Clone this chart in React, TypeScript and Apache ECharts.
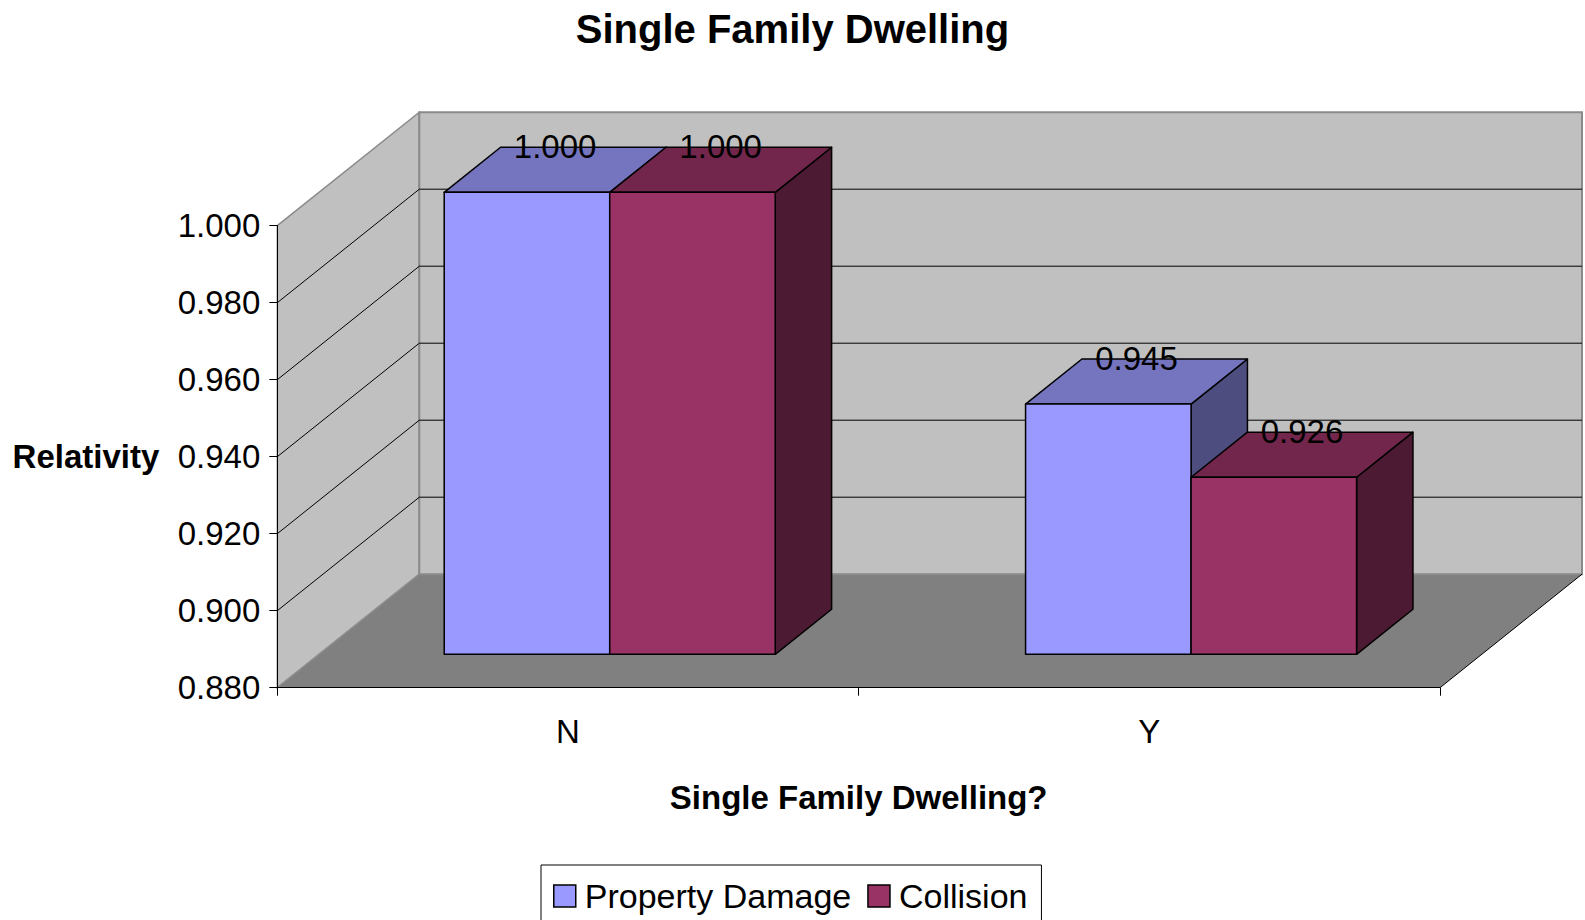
import React, { useEffect, useRef } from 'react';
import * as echarts from 'echarts';

// ---- data ----
const categories = ['N', 'Y'];
const seriesNames = ['Property Damage', 'Collision'];
const propertyDamage = [1.0, 0.945];
const collision = [1.0, 0.926];
const yTicks = [0.88, 0.9, 0.92, 0.94, 0.96, 0.98, 1.0];

// ---- look ----
const FONT = '"Liberation Sans", Arial, Helvetica, sans-serif';
const DEPTH_X = 142; // horizontal shift from the front plane to the back wall
const DEPTH_Y = -113.5; // vertical shift from the front plane to the back wall
const BAR_FRONT = 0.294; // bar front face, as a share of the depth
const BAR_BACK = 0.691; // bar back face, as a share of the depth
const BAR_SHARE = 0.2847; // one bar's width as a share of a category band

const palettes = [
  { front: '#9999FF', top: '#7575BF', side: '#4D4D80' },
  { front: '#993366', top: '#72264C', side: '#4C1A33' },
];

function makeBarRenderer(slot: number) {
  return (params: any, api: any) => {
    const cat = api.value(0);
    const v = api.value(1);
    const base = api.coord([cat, yTicks[0]]);
    const top = api.coord([cat, v]);
    const band = api.size([1, 0])[0];
    const w = band * BAR_SHARE;
    const x0 = base[0] - w + slot * w;
    const fx = BAR_FRONT * DEPTH_X;
    const fy = BAR_FRONT * DEPTH_Y;
    const dx = (BAR_BACK - BAR_FRONT) * DEPTH_X;
    const dy = (BAR_BACK - BAR_FRONT) * DEPTH_Y;
    const L = x0 + fx;
    const R = x0 + w + fx;
    const T = top[1] + fy;
    const B = base[1] + fy;
    const pal = palettes[slot];
    const edge = { stroke: '#000', lineWidth: 1.5, lineJoin: 'round' };
    const mid = (BAR_FRONT + BAR_BACK) / 2;
    return {
      type: 'group',
      children: [
        {
          type: 'polygon',
          shape: { points: [[R, T], [R + dx, T + dy], [R + dx, B + dy], [R, B]] },
          style: { fill: pal.side, ...edge },
        },
        {
          type: 'polygon',
          shape: { points: [[L, T], [R, T], [R + dx, T + dy], [L + dx, T + dy]] },
          style: { fill: pal.top, ...edge },
        },
        {
          type: 'rect',
          shape: { x: L, y: T, width: w, height: B - T },
          style: { fill: pal.front, ...edge },
        },
        {
          type: 'text',
          z2: 20,
          style: {
            text: v.toFixed(3),
            x: x0 + w / 2 + mid * DEPTH_X,
            y: top[1] + mid * DEPTH_Y - 23,
            align: 'center',
            verticalAlign: 'middle',
            font: `33px ${FONT}`,
            fill: '#000',
          },
        },
      ],
    };
  };
}

// Side wall, back wall, floor and the gridlines behind the bars.
function renderWalls(params: any, api: any) {
  const cs = params.coordSys;
  const left = cs.x;
  const right = cs.x + cs.width;
  const top = cs.y;
  const bottom = cs.y + cs.height;
  const children: any[] = [
    {
      type: 'polygon',
      shape: {
        points: [[left, bottom], [left + DEPTH_X, bottom + DEPTH_Y], [right + DEPTH_X, bottom + DEPTH_Y], [right, bottom]],
      },
      style: { fill: '#808080' },
    },
    {
      type: 'polygon',
      shape: {
        points: [[left, top], [left + DEPTH_X, top + DEPTH_Y], [left + DEPTH_X, bottom + DEPTH_Y], [left, bottom]],
      },
      style: { fill: '#C0C0C0', stroke: '#8A8A8A', lineWidth: 1.5 },
    },
    {
      type: 'rect',
      shape: { x: left + DEPTH_X, y: top + DEPTH_Y, width: cs.width, height: cs.height },
      style: { fill: '#C0C0C0', stroke: '#8A8A8A', lineWidth: 2 },
    },
  ];
  yTicks.slice(1, -1).forEach((v) => {
    const y = api.coord([0, v])[1];
    children.push({
      type: 'line',
      shape: { x1: left, y1: y, x2: left + DEPTH_X, y2: y + DEPTH_Y },
      style: { stroke: '#000', lineWidth: 1 },
    });
    children.push({
      type: 'line',
      shape: { x1: left + DEPTH_X, y1: y + DEPTH_Y, x2: right + DEPTH_X, y2: y + DEPTH_Y },
      style: { stroke: '#000', lineWidth: 1 },
    });
  });
  children.push({
    type: 'line',
    shape: { x1: right, y1: bottom, x2: right + DEPTH_X, y2: bottom + DEPTH_Y },
    style: { stroke: '#000', lineWidth: 1 },
  });
  return { type: 'group', children };
}

export default function App() {
  const ref = useRef<HTMLDivElement>(null);

  useEffect(() => {
    if (!ref.current) return;
    const chart = echarts.init(ref.current, undefined, { renderer: 'svg' });
    const values = [propertyDamage, collision];

    chart.setOption({
      animation: false,
      backgroundColor: '#FFFFFF',
      title: {
        text: 'Single Family Dwelling',
        left: 'center',
        top: 4,
        textStyle: { fontFamily: FONT, fontSize: 40, fontWeight: 'bold', color: '#000' },
      },
      legend: {
        left: 541,
        top: 865,
        padding: [13, 14, 10, 12],
        borderColor: '#000',
        borderWidth: 1,
        backgroundColor: '#FFFFFF',
        icon: 'rect',
        itemWidth: 22,
        itemHeight: 22,
        itemGap: 16,
        textStyle: {
          fontFamily: FONT,
          fontSize: 34,
          lineHeight: 36,
          color: '#000',
          padding: [0, 0, 0, 4],
        },
        data: seriesNames.map((name, i) => ({
          name,
          itemStyle: { color: palettes[i].front, borderColor: '#000', borderWidth: 1.5 },
        })),
      },
      grid: { left: 277.3, right: 145, top: 225.7, bottom: 232.3, containLabel: false },
      xAxis: {
        type: 'category',
        data: categories,
        z: 5,
        axisLine: { show: true, lineStyle: { color: '#000', width: 1 } },
        axisTick: { show: true, length: 8, alignWithLabel: false, lineStyle: { color: '#000' } },
        axisLabel: { fontFamily: FONT, fontSize: 33, color: '#000', margin: 27 },
        splitLine: { show: false },
        name: 'Single Family Dwelling?',
        nameLocation: 'middle',
        nameGap: 93,
        nameTextStyle: { fontFamily: FONT, fontSize: 33, fontWeight: 'bold', color: '#000' },
      },
      yAxis: {
        type: 'value',
        min: yTicks[0],
        max: yTicks[yTicks.length - 1],
        interval: 0.02,
        z: 5,
        axisLine: { show: true, lineStyle: { color: '#000', width: 1 } },
        axisTick: { show: true, length: 8, lineStyle: { color: '#000' } },
        axisLabel: {
          fontFamily: FONT,
          fontSize: 33,
          color: '#000',
          margin: 17,
          formatter: (v: number) => v.toFixed(3),
        },
        splitLine: { show: false },
        name: 'Relativity',
        nameLocation: 'middle',
        nameRotate: 0,
        nameGap: 118,
        nameTextStyle: {
          fontFamily: FONT,
          fontSize: 33,
          fontWeight: 'bold',
          color: '#000',
          padding: [6, 0, 0, 0],
        },
      },
      series: [
        {
          name: 'walls',
          type: 'custom',
          z: 1,
          silent: true,
          renderItem: renderWalls,
          data: [[0, yTicks[0]]],
        },
        ...seriesNames.map((name, i) => ({
          name,
          type: 'custom',
          z: 2,
          silent: true,
          itemStyle: { color: palettes[i].front, borderColor: '#000', borderWidth: 1.5 },
          renderItem: makeBarRenderer(i),
          data: categories.map((_, c) => [c, values[i][c]]),
        })),
      ],
    });

    return () => chart.dispose();
  }, []);

  return (
    <div
      ref={ref}
      style={{ position: 'absolute', left: 0, top: 0, width: 1585, height: 920, background: '#fff' }}
    />
  );
}
